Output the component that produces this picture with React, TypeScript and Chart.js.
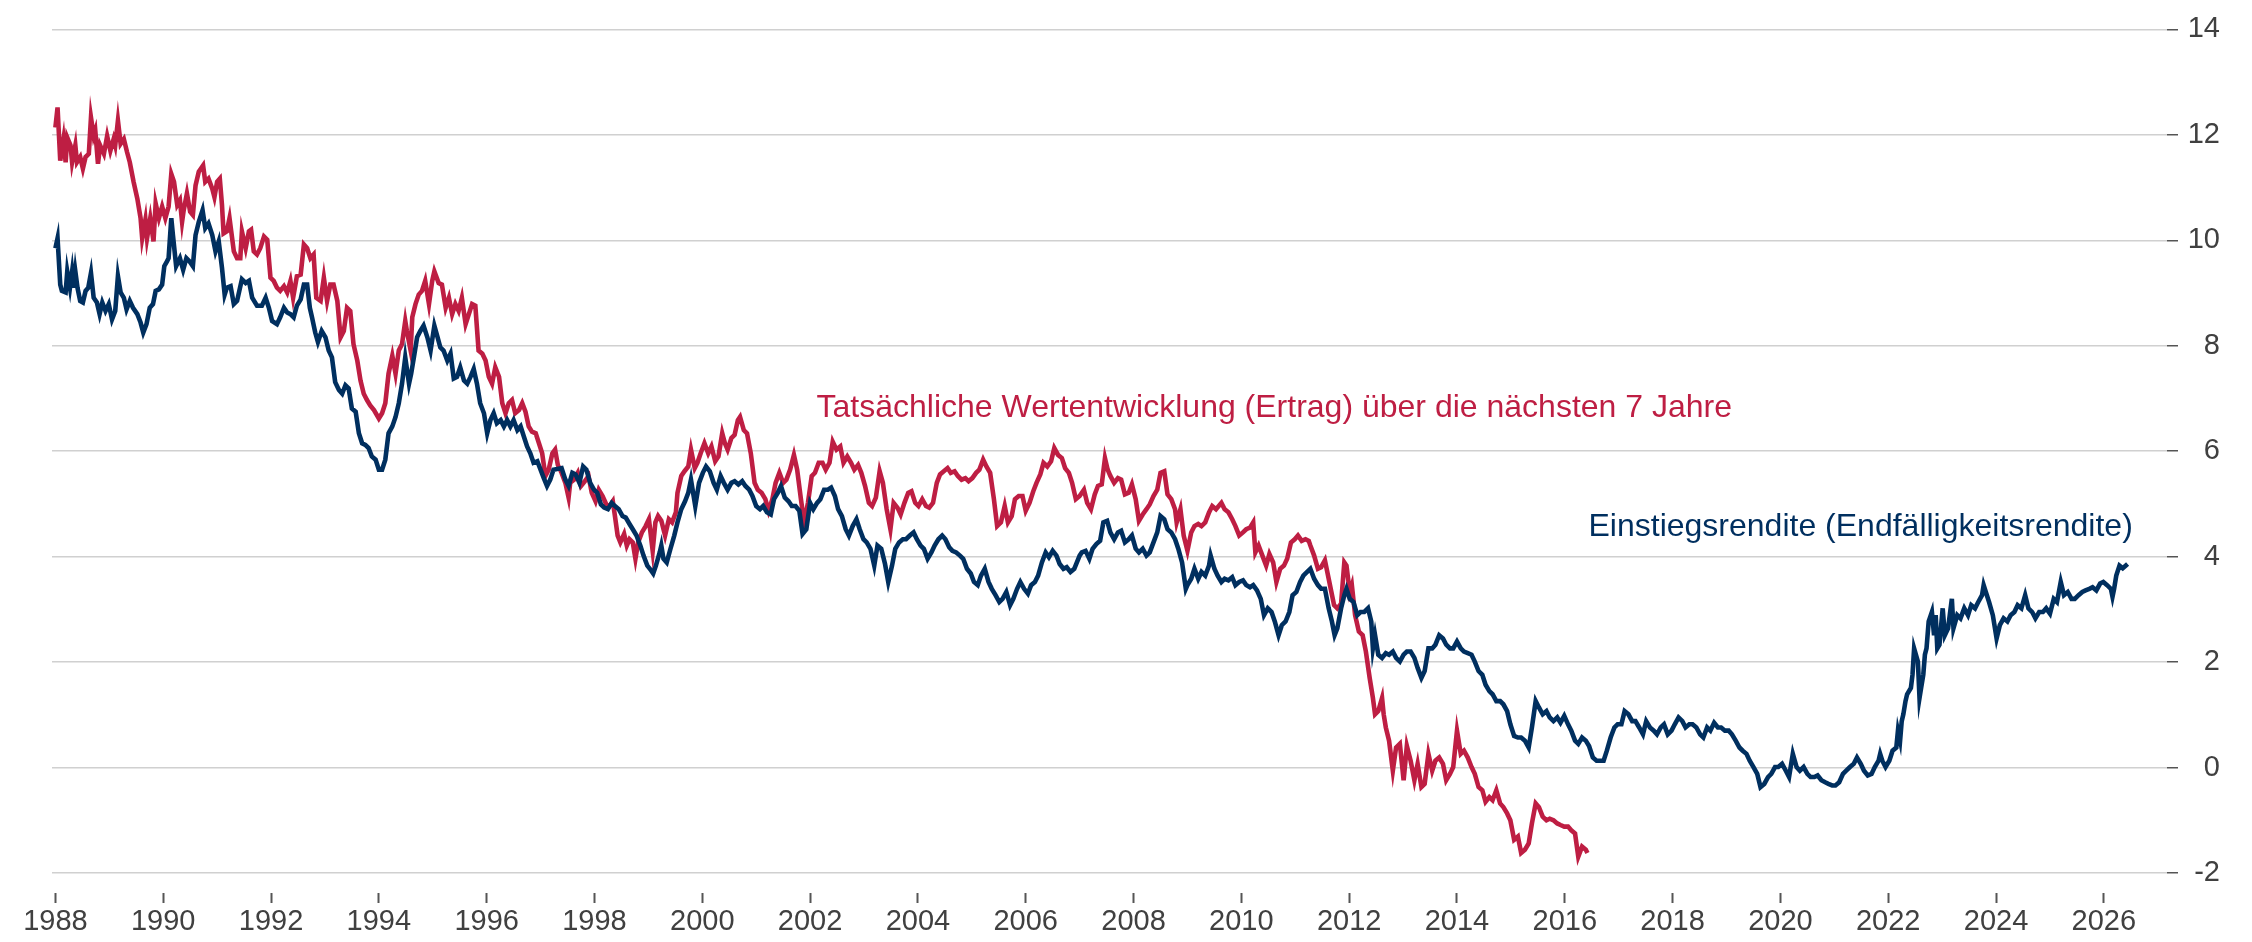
import React, { useEffect, useRef } from "react";
import { Chart, registerables } from "chart.js";

Chart.register(...registerables);

const xTickYears = [1988, 1990, 1992, 1994, 1996, 1998, 2000, 2002, 2004, 2006, 2008, 2010, 2012, 2014, 2016, 2018, 2020, 2022, 2024, 2026];
const yMin = -2;
const yMax = 14;
const yStep = 2;

const blueLabel = "Einstiegsrendite (Endfälligkeitsrendite)";
const redLabel = "Tatsächliche Wertentwicklung (Ertrag) über die nächsten 7 Jahre";
const blueLabelAt = [2016.44, 4.4];
const redLabelAt = [2002.12, 6.64];

const blueYears = [
  1988.00, 1988.04, 1988.09, 1988.12, 1988.19, 1988.22, 1988.27, 1988.31, 1988.34, 1988.37, 1988.41, 1988.46, 1988.51, 1988.56, 1988.61, 1988.66, 1988.71, 1988.77, 1988.82, 1988.87, 1988.93, 1988.99,
  1989.05, 1989.11, 1989.16, 1989.21, 1989.27, 1989.32, 1989.38, 1989.44, 1989.52, 1989.58, 1989.63, 1989.69, 1989.75, 1989.81, 1989.86, 1989.92, 1989.98,
  1990.02, 1990.07, 1990.10, 1990.15, 1990.18, 1990.24, 1990.31, 1990.37, 1990.43, 1990.49, 1990.55, 1990.60, 1990.66, 1990.73, 1990.78, 1990.84, 1990.91, 1990.97,
  1991.03, 1991.09, 1991.14, 1991.18, 1991.25, 1991.31, 1991.37, 1991.46, 1991.53, 1991.59, 1991.65, 1991.74, 1991.83, 1991.90, 1991.96,
  1992.02, 1992.11, 1992.17, 1992.24, 1992.30, 1992.36, 1992.42, 1992.48, 1992.55, 1992.61, 1992.67, 1992.72, 1992.76, 1992.82, 1992.87, 1992.94,
  1993.01, 1993.07, 1993.13, 1993.19, 1993.26, 1993.32, 1993.38, 1993.44, 1993.50, 1993.57, 1993.63, 1993.69, 1993.75, 1993.81, 1993.87, 1993.94,
  1994.00, 1994.06, 1994.12, 1994.18, 1994.25, 1994.31, 1994.37, 1994.43, 1994.49, 1994.56, 1994.60, 1994.65, 1994.71, 1994.77, 1994.83, 1994.90, 1994.96,
  1995.03, 1995.09, 1995.14, 1995.20, 1995.27, 1995.33, 1995.39, 1995.45, 1995.51, 1995.58, 1995.64, 1995.70, 1995.76, 1995.82, 1995.88, 1995.95,
  1996.01, 1996.07, 1996.13, 1996.19, 1996.26, 1996.32, 1996.38, 1996.44, 1996.50, 1996.57, 1996.63, 1996.69, 1996.75, 1996.81, 1996.87, 1996.94,
  1997.00, 1997.06, 1997.12, 1997.18, 1997.24, 1997.39, 1997.46, 1997.52, 1997.59, 1997.65, 1997.72, 1997.79, 1997.85, 1997.92, 1997.99,
  1998.05, 1998.12, 1998.18, 1998.25, 1998.32, 1998.38, 1998.45, 1998.52, 1998.58, 1998.65, 1998.71, 1998.78, 1998.85, 1998.91, 1998.98,
  1999.05, 1999.09, 1999.14, 1999.21, 1999.24, 1999.28, 1999.34, 1999.41, 1999.48, 1999.54, 1999.61, 1999.68, 1999.74, 1999.79, 1999.84, 1999.87, 1999.94,
  2000.01, 2000.07, 2000.14, 2000.21, 2000.27, 2000.34, 2000.40, 2000.47, 2000.54, 2000.60, 2000.67, 2000.74, 2000.80, 2000.87, 2000.93,
  2001.00, 2001.07, 2001.13, 2001.20, 2001.27, 2001.33, 2001.40, 2001.46, 2001.53, 2001.60, 2001.66, 2001.73, 2001.80, 2001.86, 2001.93,
  2002.00, 2002.06, 2002.13, 2002.19, 2002.26, 2002.33, 2002.39, 2002.46, 2002.52, 2002.59, 2002.66, 2002.72, 2002.79, 2002.86, 2002.92, 2002.99,
  2003.05, 2003.12, 2003.19, 2003.25, 2003.32, 2003.39, 2003.45, 2003.52, 2003.58, 2003.65, 2003.72, 2003.78, 2003.85, 2003.92, 2003.98,
  2004.05, 2004.11, 2004.18, 2004.25, 2004.31, 2004.38, 2004.45, 2004.51, 2004.58, 2004.64, 2004.71, 2004.78, 2004.84, 2004.91, 2004.98,
  2005.04, 2005.11, 2005.17, 2005.24, 2005.31, 2005.37, 2005.44, 2005.51, 2005.57, 2005.64, 2005.71, 2005.77, 2005.84, 2005.90, 2005.97,
  2006.04, 2006.10, 2006.17, 2006.23, 2006.30, 2006.37, 2006.43, 2006.50, 2006.57, 2006.63, 2006.70, 2006.76, 2006.83, 2006.90, 2007.00,
  2007.04, 2007.11, 2007.18, 2007.24, 2007.31, 2007.38, 2007.44, 2007.51, 2007.57, 2007.64, 2007.71, 2007.77, 2007.84, 2007.91, 2007.97,
  2008.04, 2008.10, 2008.17, 2008.24, 2008.30, 2008.37, 2008.44, 2008.50, 2008.57, 2008.63, 2008.70, 2008.77, 2008.83, 2008.90, 2008.97,
  2009.00, 2009.07, 2009.13, 2009.20, 2009.26, 2009.33, 2009.40, 2009.43, 2009.50, 2009.56, 2009.63, 2009.69, 2009.76, 2009.83, 2009.89, 2009.96,
  2010.03, 2010.09, 2010.16, 2010.22, 2010.29, 2010.36, 2010.42, 2010.49, 2010.56, 2010.62, 2010.69, 2010.75, 2010.82, 2010.89, 2010.95,
  2011.02, 2011.09, 2011.15, 2011.22, 2011.28, 2011.35, 2011.42, 2011.48, 2011.55, 2011.62, 2011.68, 2011.73, 2011.78, 2011.85, 2011.91, 2011.95,
  2012.01, 2012.08, 2012.15, 2012.21, 2012.28, 2012.35, 2012.41, 2012.44, 2012.48, 2012.54, 2012.61, 2012.68, 2012.74, 2012.81, 2012.87, 2012.94,
  2013.01, 2013.07, 2013.14, 2013.21, 2013.27, 2013.34, 2013.40, 2013.47, 2013.54, 2013.60, 2013.67, 2013.74, 2013.80, 2013.87, 2013.93,
  2014.00, 2014.07, 2014.13, 2014.20, 2014.27, 2014.33, 2014.40, 2014.47, 2014.53, 2014.60, 2014.66, 2014.73, 2014.80, 2014.86, 2014.93, 2014.99,
  2015.06, 2015.13, 2015.19, 2015.26, 2015.33, 2015.39, 2015.46, 2015.52, 2015.59, 2015.66, 2015.72, 2015.79, 2015.86, 2015.92, 2015.99,
  2016.06, 2016.12, 2016.19, 2016.25, 2016.32, 2016.39, 2016.45, 2016.52, 2016.59, 2016.65, 2016.72, 2016.78, 2016.85, 2016.92, 2016.98,
  2017.05, 2017.11, 2017.18, 2017.25, 2017.31, 2017.38, 2017.45, 2017.51, 2017.58, 2017.65, 2017.71, 2017.78, 2017.84, 2017.91, 2017.98,
  2018.04, 2018.11, 2018.18, 2018.24, 2018.31, 2018.37, 2018.44, 2018.51, 2018.57, 2018.64, 2018.70, 2018.77, 2018.84, 2018.90, 2018.97,
  2019.04, 2019.10, 2019.17, 2019.24, 2019.30, 2019.37, 2019.43, 2019.50, 2019.57, 2019.63, 2019.70, 2019.77, 2019.83, 2019.90, 2019.96,
  2020.03, 2020.10, 2020.16, 2020.23, 2020.30, 2020.36, 2020.43, 2020.50, 2020.56, 2020.63, 2020.69, 2020.76, 2020.83, 2020.89, 2020.96,
  2021.02, 2021.09, 2021.16, 2021.22, 2021.29, 2021.36, 2021.42, 2021.49, 2021.55, 2021.62, 2021.69, 2021.75, 2021.82, 2021.85, 2021.89, 2021.95,
  2022.02, 2022.08, 2022.15, 2022.18, 2022.22, 2022.25, 2022.28, 2022.32, 2022.35, 2022.42, 2022.45, 2022.48, 2022.55, 2022.58, 2022.61, 2022.65, 2022.68, 2022.71, 2022.75, 2022.81, 2022.85, 2022.88, 2022.91, 2022.95,
  2023.01, 2023.05, 2023.11, 2023.18, 2023.21, 2023.28, 2023.34, 2023.41, 2023.48, 2023.54, 2023.61, 2023.67, 2023.74, 2023.77, 2023.81, 2023.87, 2023.94,
  2024.01, 2024.07, 2024.14, 2024.21, 2024.27, 2024.34, 2024.40, 2024.47, 2024.54, 2024.60, 2024.67, 2024.73, 2024.80, 2024.87, 2024.93,
  2025.00, 2025.07, 2025.13, 2025.20, 2025.26, 2025.33, 2025.40, 2025.46, 2025.53, 2025.60, 2025.66, 2025.73, 2025.79, 2025.86, 2025.93, 2025.99,
  2026.06, 2026.13, 2026.16, 2026.19, 2026.23, 2026.29, 2026.35, 2026.44,
];

const blueValues = [
  9.85, 10.04, 9.16, 9.04, 9.01, 9.41, 9.10, 9.41, 9.10, 9.41, 9.10, 8.85, 8.82, 9.04, 9.10, 9.38, 8.91, 8.82, 8.60, 8.82, 8.66, 8.79,
  8.50, 8.66, 9.32, 9.01, 8.91, 8.69, 8.85, 8.72, 8.60, 8.44, 8.25, 8.41, 8.72, 8.79, 9.04, 9.07, 9.16,
  9.51, 9.60, 9.66, 10.42, 10.10, 9.51, 9.66, 9.44, 9.66, 9.60, 9.51, 10.10, 10.35, 10.57, 10.23, 10.32, 10.10, 9.79,
  9.98, 9.48, 8.97, 9.10, 9.13, 8.79, 8.85, 9.26, 9.19, 9.23, 8.91, 8.76, 8.76, 8.91, 8.72,
  8.47, 8.41, 8.54, 8.72, 8.63, 8.60, 8.54, 8.76, 8.88, 9.16, 9.16, 8.72, 8.54, 8.25, 8.07, 8.28,
  8.16, 7.91, 7.78, 7.31, 7.16, 7.09, 7.25, 7.19, 6.81, 6.75, 6.34, 6.15, 6.12, 6.06, 5.90, 5.84,
  5.65, 5.65, 5.84, 6.34, 6.47, 6.65, 6.91, 7.28, 7.78, 7.28, 7.47, 7.78, 8.16, 8.28, 8.38, 8.16, 7.91,
  8.38, 8.16, 7.97, 7.91, 7.72, 7.85, 7.38, 7.41, 7.59, 7.34, 7.28, 7.41, 7.56, 7.28, 6.91, 6.72,
  6.34, 6.59, 6.72, 6.53, 6.59, 6.47, 6.59, 6.47, 6.59, 6.40, 6.47, 6.28, 6.09, 5.96, 5.78, 5.81,
  5.65, 5.49, 5.34, 5.46, 5.65, 5.68, 5.46, 5.34, 5.59, 5.56, 5.40, 5.71, 5.65, 5.40, 5.27,
  5.21, 4.99, 4.93, 4.90, 5.02, 4.96, 4.90, 4.77, 4.74, 4.62, 4.52, 4.40, 4.21, 4.02, 3.83,
  3.74, 3.68, 3.83, 4.08, 4.21, 3.96, 3.89, 4.15, 4.40, 4.65, 4.90, 5.05, 5.21, 5.46, 5.15, 4.96, 5.40,
  5.59, 5.71, 5.62, 5.40, 5.27, 5.53, 5.40, 5.27, 5.40, 5.43, 5.37, 5.43, 5.34, 5.27, 5.15,
  4.96, 4.90, 4.96, 4.84, 4.80, 5.09, 5.21, 5.34, 5.12, 5.05, 4.96, 4.96, 4.87, 4.43, 4.52,
  5.02, 4.90, 5.02, 5.09, 5.27, 5.27, 5.31, 5.15, 4.90, 4.77, 4.52, 4.40, 4.58, 4.71, 4.52, 4.33,
  4.27, 4.15, 3.83, 4.21, 4.15, 3.86, 3.52, 3.83, 4.15, 4.27, 4.33, 4.33, 4.40, 4.46, 4.33,
  4.21, 4.15, 3.96, 4.08, 4.21, 4.33, 4.40, 4.33, 4.18, 4.11, 4.08, 4.02, 3.96, 3.77, 3.68,
  3.52, 3.46, 3.64, 3.77, 3.52, 3.39, 3.27, 3.14, 3.20, 3.33, 3.08, 3.20, 3.39, 3.52, 3.39,
  3.30, 3.46, 3.52, 3.64, 3.89, 4.08, 3.99, 4.11, 4.02, 3.86, 3.77, 3.80, 3.71, 3.77, 4.02,
  4.08, 4.11, 3.96, 4.15, 4.24, 4.30, 4.65, 4.68, 4.46, 4.33, 4.46, 4.49, 4.27, 4.33, 4.40,
  4.15, 4.08, 4.15, 4.02, 4.08, 4.27, 4.46, 4.77, 4.71, 4.52, 4.46, 4.33, 4.15, 3.89, 3.39,
  3.46, 3.58, 3.77, 3.58, 3.71, 3.64, 3.83, 4.02, 3.77, 3.64, 3.52, 3.58, 3.55, 3.61, 3.46, 3.52,
  3.55, 3.46, 3.42, 3.46, 3.36, 3.20, 2.89, 3.02, 2.95, 2.77, 2.51, 2.70, 2.77, 2.95, 3.27,
  3.33, 3.52, 3.64, 3.71, 3.77, 3.58, 3.46, 3.39, 3.39, 3.02, 2.77, 2.51, 2.64, 3.02, 3.27, 3.39,
  3.20, 3.14, 2.89, 2.95, 2.95, 3.02, 2.77, 2.26, 2.51, 2.14, 2.08, 2.17, 2.14, 2.20, 2.08, 2.01,
  2.14, 2.20, 2.20, 2.08, 1.89, 1.70, 1.83, 2.26, 2.26, 2.33, 2.51, 2.45, 2.33, 2.26, 2.26,
  2.39, 2.26, 2.20, 2.17, 2.14, 2.01, 1.83, 1.76, 1.57, 1.45, 1.39, 1.26, 1.26, 1.20, 1.07, 0.82,
  0.60, 0.57, 0.57, 0.51, 0.38, 0.76, 1.26, 1.14, 1.01, 1.07, 0.95, 0.88, 0.95, 0.85, 0.98,
  0.82, 0.70, 0.51, 0.45, 0.57, 0.51, 0.41, 0.19, 0.13, 0.13, 0.13, 0.32, 0.57, 0.76, 0.82,
  0.82, 1.07, 1.01, 0.88, 0.88, 0.76, 0.63, 0.88, 0.76, 0.70, 0.63, 0.76, 0.82, 0.63, 0.70,
  0.82, 0.95, 0.88, 0.76, 0.82, 0.82, 0.76, 0.63, 0.57, 0.76, 0.70, 0.85, 0.76, 0.76, 0.70,
  0.70, 0.63, 0.51, 0.38, 0.32, 0.26, 0.13, 0.01, -0.12, -0.37, -0.31, -0.18, -0.12, 0.01, 0.01,
  0.07, -0.06, -0.18, 0.26, 0.01, -0.06, 0.01, -0.12, -0.18, -0.18, -0.15, -0.24, -0.28, -0.31, -0.34,
  -0.34, -0.28, -0.12, -0.06, 0.01, 0.07, 0.19, 0.07, -0.06, -0.15, -0.12, 0.01, 0.13, 0.26, 0.13, 0.01,
  0.13, 0.32, 0.38, 0.70, 0.51, 0.88, 1.01, 1.26, 1.39, 1.51, 1.76, 2.26, 2.01, 1.32, 1.51, 1.76, 2.14, 2.26, 2.77, 2.95, 2.51, 2.89, 2.26, 2.33,
  3.02, 2.51, 2.64, 3.20, 2.64, 2.89, 2.83, 3.02, 2.89, 3.08, 3.02, 3.14, 3.27, 3.46, 3.33, 3.14, 2.89,
  2.45, 2.70, 2.83, 2.77, 2.89, 2.95, 3.08, 3.02, 3.27, 3.02, 2.95, 2.83, 2.95, 2.95, 3.02,
  2.92, 3.20, 3.14, 3.52, 3.27, 3.33, 3.20, 3.20, 3.27, 3.33, 3.36, 3.39, 3.42, 3.36, 3.49, 3.52,
  3.46, 3.39, 3.24, 3.39, 3.64, 3.83, 3.78, 3.86,
];

const redYears = [
  1988.00, 1988.04, 1988.09, 1988.15, 1988.19, 1988.22, 1988.28, 1988.31, 1988.37, 1988.40, 1988.46, 1988.51, 1988.56, 1988.62, 1988.66, 1988.71, 1988.74, 1988.79, 1988.83, 1988.90, 1988.96,
  1989.02, 1989.08, 1989.11, 1989.16, 1989.21, 1989.27, 1989.33, 1989.38, 1989.45, 1989.52, 1989.58, 1989.61, 1989.67, 1989.70, 1989.76, 1989.82, 1989.86, 1989.92, 1989.98,
  1990.04, 1990.10, 1990.15, 1990.20, 1990.26, 1990.31, 1990.35, 1990.38, 1990.44, 1990.50, 1990.55, 1990.60, 1990.66, 1990.74, 1990.78, 1990.84, 1990.91, 1990.95,
  1991.00, 1991.05, 1991.09, 1991.12, 1991.18, 1991.23, 1991.31, 1991.37, 1991.43, 1991.46, 1991.53, 1991.59, 1991.63, 1991.68, 1991.74, 1991.80, 1991.87, 1991.93, 1991.99,
  1992.05, 1992.11, 1992.17, 1992.24, 1992.30, 1992.36, 1992.41, 1992.48, 1992.55, 1992.61, 1992.67, 1992.73, 1992.79, 1992.84, 1992.92, 1992.98,
  1993.04, 1993.10, 1993.16, 1993.23, 1993.29, 1993.35, 1993.41, 1993.47, 1993.53, 1993.60, 1993.66, 1993.72, 1993.78, 1993.84, 1993.91,
  1994.00, 1994.06, 1994.12, 1994.18, 1994.25, 1994.31, 1994.37, 1994.43, 1994.49, 1994.52, 1994.59, 1994.62, 1994.68, 1994.74, 1994.80, 1994.86, 1994.93, 1994.99,
  1995.03, 1995.11, 1995.17, 1995.24, 1995.30, 1995.36, 1995.42, 1995.48, 1995.54, 1995.61, 1995.67, 1995.73, 1995.79, 1995.85, 1995.92, 1995.98,
  1996.04, 1996.10, 1996.16, 1996.23, 1996.29, 1996.35, 1996.41, 1996.47, 1996.53, 1996.60, 1996.66, 1996.72, 1996.78, 1996.84, 1996.91, 1996.97,
  1997.03, 1997.09, 1997.15, 1997.22, 1997.27, 1997.32, 1997.39, 1997.46, 1997.52, 1997.55, 1997.62, 1997.69, 1997.75, 1997.82, 1997.89, 1997.95,
  1998.02, 1998.08, 1998.15, 1998.22, 1998.28, 1998.34, 1998.38, 1998.43, 1998.48, 1998.55, 1998.60, 1998.65, 1998.71, 1998.76, 1998.81, 1998.88, 1998.95,
  1999.01, 1999.08, 1999.13, 1999.18, 1999.24, 1999.31, 1999.38, 1999.44, 1999.51, 1999.54, 1999.61, 1999.67, 1999.74, 1999.79, 1999.86, 1999.91, 1999.97,
  2000.04, 2000.11, 2000.17, 2000.24, 2000.30, 2000.37, 2000.42, 2000.47, 2000.54, 2000.60, 2000.66, 2000.70, 2000.77, 2000.83, 2000.90, 2000.97,
  2001.03, 2001.10, 2001.17, 2001.23, 2001.30, 2001.36, 2001.43, 2001.50, 2001.56, 2001.63, 2001.70, 2001.76, 2001.83, 2001.89, 2001.96,
  2002.03, 2002.09, 2002.16, 2002.23, 2002.29, 2002.36, 2002.42, 2002.49, 2002.56, 2002.62, 2002.69, 2002.76, 2002.82, 2002.89, 2002.95,
  2003.02, 2003.09, 2003.15, 2003.22, 2003.29, 2003.35, 2003.42, 2003.49, 2003.55, 2003.62, 2003.68, 2003.75, 2003.82, 2003.88, 2003.95,
  2004.01, 2004.08, 2004.15, 2004.21, 2004.28, 2004.35, 2004.41, 2004.48, 2004.55, 2004.61, 2004.68, 2004.74, 2004.81, 2004.88, 2004.94,
  2005.01, 2005.08, 2005.14, 2005.21, 2005.27, 2005.34, 2005.41, 2005.47, 2005.54, 2005.61, 2005.67, 2005.74, 2005.80, 2005.87, 2005.94,
  2006.00, 2006.07, 2006.14, 2006.20, 2006.27, 2006.33, 2006.40, 2006.47, 2006.53, 2006.60, 2006.67, 2006.73, 2006.80, 2006.86, 2006.93, 2007.00,
  2007.08, 2007.14, 2007.21, 2007.28, 2007.34, 2007.41, 2007.47, 2007.52, 2007.57, 2007.64, 2007.71, 2007.77, 2007.84, 2007.91, 2007.97,
  2008.04, 2008.10, 2008.17, 2008.24, 2008.30, 2008.37, 2008.44, 2008.50, 2008.57, 2008.63, 2008.70, 2008.77, 2008.80, 2008.87, 2008.93,
  2009.00, 2009.07, 2009.13, 2009.20, 2009.26, 2009.33, 2009.40, 2009.46, 2009.53, 2009.63, 2009.69, 2009.76, 2009.83, 2009.89, 2009.96,
  2010.03, 2010.09, 2010.16, 2010.22, 2010.26, 2010.32, 2010.39, 2010.46, 2010.52, 2010.59, 2010.65, 2010.72, 2010.79, 2010.85, 2010.92, 2010.99,
  2011.05, 2011.12, 2011.19, 2011.25, 2011.28, 2011.35, 2011.42, 2011.48, 2011.55, 2011.62, 2011.67, 2011.72, 2011.78, 2011.85, 2011.91, 2011.95,
  2012.01, 2012.05, 2012.11, 2012.18, 2012.25, 2012.31, 2012.38, 2012.44, 2012.48, 2012.54, 2012.61, 2012.64, 2012.68, 2012.74, 2012.81, 2012.87, 2012.94,
  2013.01, 2013.07, 2013.14, 2013.21, 2013.27, 2013.34, 2013.40, 2013.47, 2013.54, 2013.60, 2013.67, 2013.74, 2013.80, 2013.87, 2013.93,
  2014.00, 2014.07, 2014.13, 2014.20, 2014.27, 2014.33, 2014.40, 2014.47, 2014.53, 2014.60, 2014.66, 2014.73, 2014.80, 2014.86, 2014.93, 2014.99,
  2015.06, 2015.13, 2015.19, 2015.26, 2015.33, 2015.39, 2015.46, 2015.52, 2015.59, 2015.66, 2015.72, 2015.79, 2015.86, 2015.92, 2015.99,
  2016.06, 2016.12, 2016.19, 2016.25, 2016.32, 2016.39, 2016.42,
];

const redValues = [
  12.14, 12.52, 11.51, 11.92, 11.48, 11.95, 11.80, 11.48, 11.80, 11.48, 11.58, 11.36, 11.58, 11.64, 12.33, 11.98, 12.08, 11.45, 11.80, 11.64, 11.98,
  11.70, 11.92, 11.80, 12.27, 11.83, 11.92, 11.67, 11.48, 11.11, 10.79, 10.42, 10.04, 10.39, 10.04, 10.42, 9.98, 10.70, 10.42, 10.64,
  10.42, 10.64, 11.26, 11.11, 10.67, 10.76, 10.35, 10.57, 10.89, 10.54, 10.48, 11.04, 11.30, 11.42, 11.11, 11.17, 10.98, 10.82,
  11.11, 11.17, 10.67, 10.13, 10.17, 10.42, 9.79, 9.66, 9.66, 10.17, 9.85, 10.17, 10.20, 9.79, 9.73, 9.85, 10.07, 10.01, 9.29,
  9.23, 9.10, 9.04, 9.13, 9.01, 9.23, 8.91, 9.32, 9.35, 9.92, 9.85, 9.66, 9.73, 8.91, 8.85, 9.29,
  8.85, 9.16, 9.16, 8.85, 8.16, 8.28, 8.72, 8.66, 8.03, 7.72, 7.34, 7.09, 6.97, 6.87, 6.78,
  6.62, 6.72, 6.91, 7.47, 7.81, 7.47, 7.91, 8.03, 8.47, 8.28, 7.91, 8.54, 8.79, 8.97, 9.04, 9.23, 8.79, 9.23,
  9.41, 9.19, 9.16, 8.72, 8.91, 8.60, 8.79, 8.66, 8.91, 8.41, 8.60, 8.79, 8.76, 7.91, 7.85, 7.72,
  7.41, 7.28, 7.59, 7.41, 6.91, 6.72, 6.91, 6.97, 6.72, 6.78, 6.91, 6.75, 6.47, 6.37, 6.34, 6.15,
  5.96, 5.53, 5.65, 5.96, 6.03, 5.74, 5.59, 5.40, 5.12, 5.40, 5.46, 5.59, 5.34, 5.43, 5.53, 5.21,
  5.05, 5.27, 5.15, 4.99, 4.96, 5.05, 4.77, 4.40, 4.27, 4.43, 4.21, 4.33, 4.27, 3.96, 4.27, 4.46, 4.58,
  4.71, 4.11, 4.65, 4.77, 4.68, 4.40, 4.71, 4.65, 4.84, 5.21, 5.53, 5.62, 5.71, 6.03, 5.68, 5.78, 5.96,
  6.15, 5.96, 6.09, 5.81, 5.90, 6.34, 6.15, 6.03, 6.25, 6.31, 6.59, 6.65, 6.40, 6.34, 5.96, 5.40,
  5.27, 5.21, 5.09, 4.87, 5.09, 5.40, 5.59, 5.40, 5.46, 5.65, 5.93, 5.65, 5.09, 4.65, 5.02,
  5.53, 5.59, 5.78, 5.78, 5.65, 5.78, 6.18, 6.03, 6.09, 5.78, 5.90, 5.78, 5.65, 5.74, 5.59,
  5.34, 5.02, 4.96, 5.12, 5.62, 5.40, 4.90, 4.52, 5.02, 4.93, 4.80, 5.02, 5.21, 5.24, 5.02,
  4.96, 5.09, 4.96, 4.93, 5.02, 5.40, 5.56, 5.62, 5.68, 5.59, 5.62, 5.53, 5.46, 5.49, 5.43,
  5.49, 5.59, 5.65, 5.84, 5.71, 5.59, 5.09, 4.58, 4.65, 4.96, 4.65, 4.77, 5.09, 5.15, 5.15,
  4.87, 5.02, 5.24, 5.40, 5.56, 5.78, 5.71, 5.81, 6.06, 5.93, 5.87, 5.68, 5.59, 5.40, 5.09, 5.15,
  5.27, 5.02, 4.90, 5.18, 5.34, 5.37, 5.87, 5.65, 5.53, 5.40, 5.49, 5.46, 5.18, 5.21, 5.37,
  5.09, 4.68, 4.80, 4.90, 4.99, 5.15, 5.27, 5.59, 5.62, 5.18, 5.09, 4.90, 4.65, 4.90, 4.40,
  4.11, 4.46, 4.58, 4.62, 4.58, 4.65, 4.84, 4.96, 4.90, 5.02, 4.90, 4.84, 4.71, 4.58, 4.40,
  4.46, 4.52, 4.55, 4.65, 4.08, 4.21, 4.02, 3.83, 4.05, 3.89, 3.52, 3.77, 3.83, 3.96, 4.27, 4.33,
  4.40, 4.30, 4.33, 4.30, 4.21, 4.02, 3.77, 3.80, 3.93, 3.58, 3.33, 3.08, 3.02, 3.11, 3.89, 3.83,
  3.33, 3.46, 2.89, 2.58, 2.51, 2.20, 1.70, 1.32, 1.01, 1.07, 1.32, 1.01, 0.76, 0.51, -0.06, 0.38, 0.45,
  -0.24, 0.41, 0.13, -0.24, 0.07, -0.37, -0.31, 0.26, -0.06, 0.13, 0.19, 0.07, -0.24, -0.12, 0.01,
  0.70, 0.26, 0.32, 0.19, 0.01, -0.12, -0.37, -0.43, -0.65, -0.56, -0.62, -0.43, -0.68, -0.75, -0.87, -1.00,
  -1.37, -1.31, -1.62, -1.56, -1.44, -1.06, -0.68, -0.75, -0.93, -1.00, -0.97, -1.00, -1.06, -1.09, -1.12,
  -1.12, -1.19, -1.25, -1.69, -1.50, -1.56, -1.62,
];

const NAVY = "#002F5F";
const RED = "#BE1E43";
const FONT = "'Liberation Sans', Arial, Helvetica, sans-serif";

export default function App() {
  const canvasRef = useRef<HTMLCanvasElement | null>(null);

  useEffect(() => {
    const canvas = canvasRef.current;
    if (!canvas) return;

    const labelPlugin = {
      id: "seriesLabels",
      afterDatasetsDraw(chart: any) {
        const { ctx, scales } = chart;
        const xs = scales.x;
        const ys = scales.y;
        ctx.save();
        ctx.font = `32px ${FONT}`;
        ctx.textAlign = "left";
        ctx.textBaseline = "alphabetic";
        ctx.fillStyle = RED;
        ctx.fillText(redLabel, xs.getPixelForValue(redLabelAt[0]), ys.getPixelForValue(redLabelAt[1]));
        ctx.fillStyle = NAVY;
        ctx.fillText(blueLabel, xs.getPixelForValue(blueLabelAt[0]), ys.getPixelForValue(blueLabelAt[1]));
        ctx.restore();
      },
    };

    const chart = new Chart(canvas, {
      type: "line",
      data: {
        datasets: [
          {
            label: blueLabel,
            data: blueYears.map((x, i) => ({ x, y: blueValues[i] })),
            borderColor: NAVY,
            backgroundColor: NAVY,
            borderWidth: 4.6,
            pointRadius: 0,
            tension: 0,
            fill: false,
          },
          {
            label: redLabel,
            data: redYears.map((x, i) => ({ x, y: redValues[i] })),
            borderColor: RED,
            backgroundColor: RED,
            borderWidth: 4.6,
            pointRadius: 0,
            tension: 0,
            fill: false,
          },
        ],
      },
      options: {
        responsive: false,
        animation: false,
        devicePixelRatio: 1,
        layout: { padding: { left: 52, top: 23, right: 32, bottom: 0 } },
        plugins: {
          legend: { display: false },
          tooltip: { enabled: false },
        },
        scales: {
          x: {
            type: "linear",
            min: 1987.937,
            max: 2027.171,
            afterBuildTicks: (scale: any) => {
              scale.ticks = xTickYears.map((v) => ({ value: v }));
            },
            afterFit: (scale: any) => {
              scale.height = 69;
            },
            border: { display: false },
            grid: {
              drawOnChartArea: false,
              drawTicks: true,
              tickLength: 30,
              tickColor: "#555555",
              tickWidth: 2,
              tickBorderDash: [10, 20],
              tickBorderDashOffset: 10,
            },
            ticks: {
              autoSkip: false,
              maxRotation: 0,
              color: "#404040",
              padding: 2,
              font: { family: FONT, size: 29 },
              callback: (v: any) => String(v),
            },
          },
          y: {
            position: "right",
            min: yMin,
            max: yMax,
            afterFit: (scale: any) => {
              scale.width = 53;
            },
            border: { display: false },
            grid: {
              color: "#d0d0d0",
              lineWidth: 1.5,
              tickLength: 11,
              tickColor: "#555555",
              tickWidth: 1.5,
            },
            ticks: {
              stepSize: yStep,
              color: "#404040",
              padding: 12,
              crossAlign: "far",
              font: { family: FONT, size: 29 },
            },
          },
        },
      },
      plugins: [labelPlugin],
    } as any);

    return () => chart.destroy();
  }, []);

  return (
    <div style={{ position: "absolute", left: 0, top: 0, width: 2252, height: 942, background: "#ffffff" }}>
      <canvas ref={canvasRef} width={2252} height={942} style={{ display: "block", width: 2252, height: 942 }} />
    </div>
  );
}
